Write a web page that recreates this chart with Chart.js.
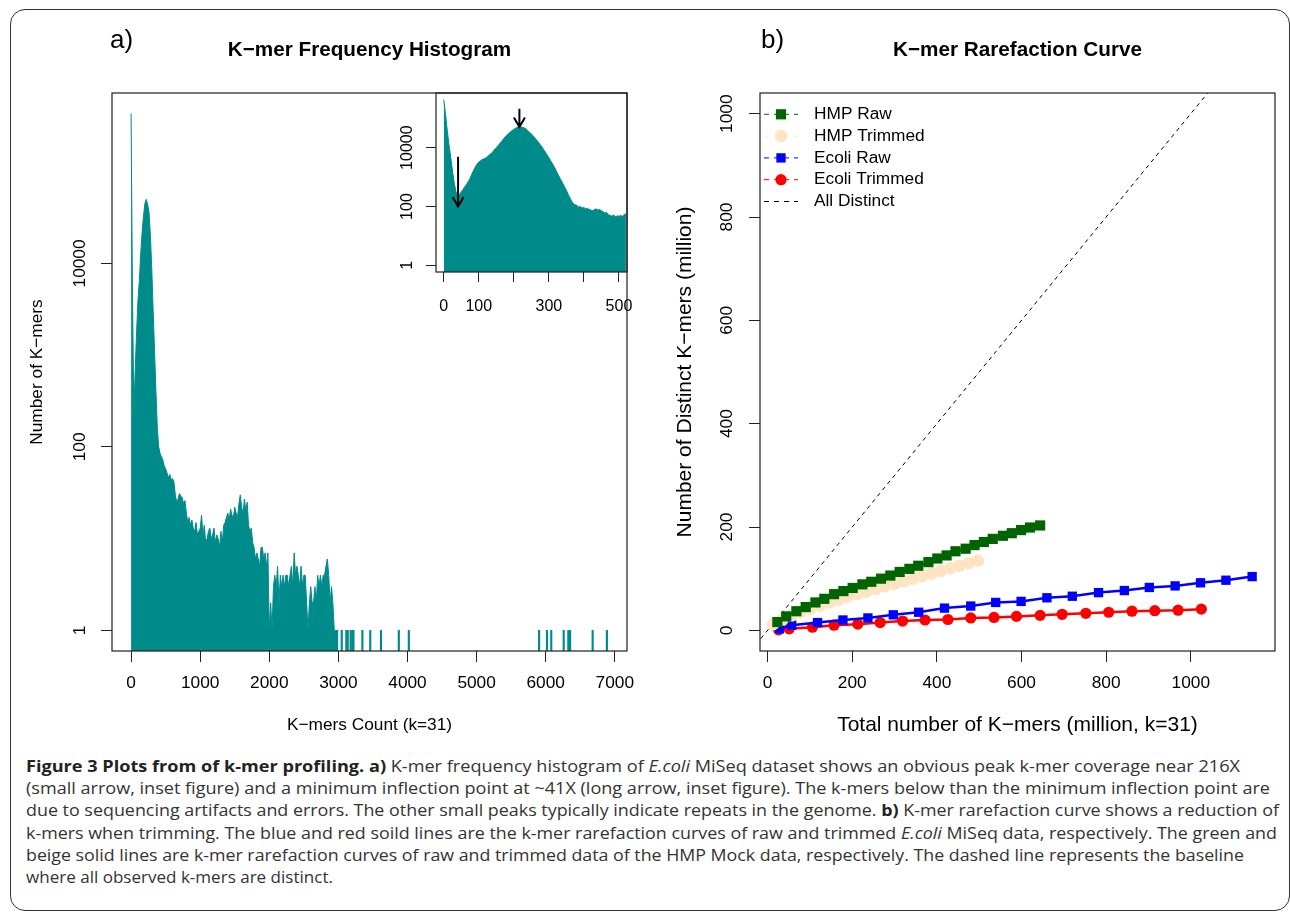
<!DOCTYPE html>
<html lang="en">
<head>
<meta charset="utf-8">
<title>K-mer profiling</title>
<script src="https://cdn.jsdelivr.net/npm/chart.js@4.4.1/dist/chart.umd.min.js"></script>
<style>
  html, body { margin: 0; padding: 0; background: #fff; }
  body { width: 1290px; height: 914px; position: relative; overflow: hidden; font-family: "Liberation Sans", Arial, sans-serif; color: #000; }
  .frame { position: absolute; left: 10px; top: 9px; width: 1280px; height: 902px; border: 1.4px solid #333; border-radius: 15px; box-sizing: border-box; }
  canvas { position: absolute; }
  #histChart { left: 0; top: 0; z-index: 3; }
  #insetChart { left: 340px; top: 60px; z-index: 2; }
  #rareChart { left: 645px; top: 0; z-index: 2; }
  .tag { position: absolute; font-size: 26px; line-height: 26px; z-index: 4; }
  .caption { position: absolute; left: 26px; top: 755px; font-family: "Open Sans", sans-serif; font-size: 16.5px; line-height: 22.2px; color: #333; z-index: 4; }
  .caption div { white-space: nowrap; }
  .caption .ln { display: inline-block; transform-origin: 0 50%; }
  .caption b { color: #222; }
</style>
</head>
<body>
<div class="frame"></div>
<canvas id="insetChart" width="320" height="280"></canvas>
<canvas id="histChart" width="660" height="745"></canvas>
<canvas id="rareChart" width="645" height="745"></canvas>
<div class="tag" style="left:110px;top:26px">a)</div>
<div class="tag" style="left:761px;top:26px">b)</div>

<div class="caption">
  <div><span class="ln"><b>Figure 3 Plots from of k-mer profiling. a)</b> K-mer frequency histogram of <i>E.coli</i> MiSeq dataset shows an obvious peak k-mer coverage near 216X</span></div>
  <div><span class="ln">(small arrow, inset figure) and a minimum inflection point at ~41X (long arrow, inset figure). The k-mers below than the minimum inflection point are</span></div>
  <div><span class="ln">due to sequencing artifacts and errors. The other small peaks typically indicate repeats in the genome. <b>b)</b> K-mer rarefaction curve shows a reduction of</span></div>
  <div><span class="ln">k-mers when trimming. The blue and red soild lines are the k-mer rarefaction curves of raw and trimmed <i>E.coli</i> MiSeq data, respectively. The green and</span></div>
  <div><span class="ln">beige solid lines are k-mer rarefaction curves of raw and trimmed data of the HMP Mock data, respectively. The dashed line represents the baseline</span></div>
  <div><span class="ln">where all observed k-mers are distinct.</span></div>
</div>

<script>
// ---------- a) histogram: k-mer count bins of 20, number of k-mers in each ----------
const histBinWidth = 20
const histCounts = [
  430000, 5000, 230, 700, 1800, 4000, 6500, 13000, 22000, 33000,
  45000, 50000, 44000, 36000, 20000, 8500, 3000, 1100, 400, 160,
  100, 85, 78, 72, 62, 58, 52, 46, 50, 44,
  45, 42, 30, 25, 27, 31, 29, 28, 24, 26,
  19, 15, 17, 14, 16, 13, 12, 15, 11, 12,
  13, 18, 11, 14, 9, 10, 12, 13, 10, 11,
  13, 9, 11, 10, 8, 12, 9, 14, 15, 17,
  19, 16, 21, 18, 17, 22, 19, 17, 24, 30,
  22, 19, 27, 20, 25, 14, 12, 13, 9, 8,
  6, 7, 6, 5, 8, 8, 6, 7, 5, 7,
  1, 2, 1, 3, 4, 3, 5, 2, 4, 3,
  4, 3, 4, 4, 3, 4, 5, 3, 7, 4,
  5, 4, 3, 5, 3, 4, 4, 2, 1, 2,
  3, 2, 2, 3, 2, 4, 3, 4, 3, 4,
  4, 5, 6, 4, 2, 3, 2, 1, 1, 1,
  1
]
// isolated single k-mers far out on the tail
const tailX = [3048, 3115, 3135, 3177, 3202, 3218, 3347, 3461, 3616, 3874, 4019, 5904, 6018, 6080, 6260, 6327, 6353, 6679, 6885]
const tailCounts = [1, 1, 1, 1, 1, 1, 1, 1, 1, 1, 1, 1, 1, 1, 1, 1, 1, 1, 1]
const histTicks = [0, 1000, 2000, 3000, 4000, 5000, 6000, 7000]
const countTicks = [1, 100, 10000]

// ---------- inset: bins of 5 from 0 to 520 ----------
const insetBinWidth = 5
const insetCounts = [
  430000, 141000, 40000, 12600, 4800, 1600, 630, 320, 220, 250,
  320, 380, 470, 560, 710, 890, 1260, 1660, 2190, 2750,
  3240, 3630, 3980, 4170, 4470, 5010, 5620, 6310, 7240, 8510,
  10000, 11700, 13800, 16200, 19500, 22900, 26300, 30200, 33900, 38000,
  41700, 45700, 49000, 50100, 50100, 49000, 46800, 42700, 38000, 33100,
  29500, 25100, 21400, 18200, 15500, 12900, 10700, 8710, 7080, 5620,
  4570, 3630, 2880, 2240, 1740, 1320, 1000, 776, 603, 457,
  355, 263, 200, 151, 126, 115, 110, 95, 100, 89,
  93, 83, 87, 79, 76, 72, 79, 83, 76, 79,
  72, 66, 60, 63, 52, 50, 47, 52, 45, 48,
  47, 50, 46, 54, 56
]
const insetTicks = [0, 100, 200, 300, 400, 500]
const insetTickLabels = ['0', '100', '', '300', '', '500']
// arrows: peak (216X) and minimum inflection (41X)
const arrowX = [216, 41]
const arrowFrom = [210000, 4900]
const arrowTo = [50000, 100]

// ---------- b) rarefaction curves (million) ----------
const seriesNames = ['HMP Raw', 'HMP Trimmed', 'Ecoli Raw', 'Ecoli Trimmed', 'All Distinct']
const hmpRawX = [23, 44, 68, 90, 113, 134, 157, 179, 201, 224, 245, 268, 290, 312, 335, 356, 380, 401, 423, 444, 468, 489, 511, 532, 556, 577, 599, 620, 644]
const hmpRawY = [16, 27, 37, 45, 54, 61, 70, 76, 82, 89, 94, 100, 106, 113, 119, 125, 132, 139, 145, 153, 158, 165, 171, 177, 183, 188, 194, 199, 203]
const hmpTrimX = [13, 35, 57, 79, 101, 123, 145, 167, 189, 211, 233, 255, 277, 299, 321, 343, 365, 387, 409, 431, 453, 475, 497]
const hmpTrimY = [12, 21, 29, 36, 42, 48, 54, 59, 65, 70, 75, 80, 85, 90, 95, 100, 105, 110, 115, 120, 125, 130, 135]
const ecoliRawX = [28, 57, 118, 178, 237, 297, 357, 418, 480, 539, 599, 660, 720, 782, 843, 902, 963, 1023, 1083, 1145]
const ecoliRawY = [3, 10, 15, 20, 24, 30, 35, 43, 47, 54, 56, 63, 66, 73, 77, 83, 86, 92, 97, 104]
const ecoliTrimX = [26, 51, 106, 157, 213, 266, 319, 372, 426, 480, 535, 588, 644, 696, 752, 806, 861, 915, 970, 1025]
const ecoliTrimY = [1, 3, 6, 10, 12, 15, 18, 20, 21, 24, 25, 27, 29, 31, 33, 35, 37, 38, 39, 41]
const allDistinctX = [-40, 1100]
const allDistinctY = [-40, 1100]
const totalTicks = [0, 200, 400, 600, 800, 1000]
const distinctTicks = [0, 200, 400, 600, 800, 1000]


// ---------- shared look ----------
const teal = '#008b8b'
const fontFamily = '"Liberation Sans", Arial, sans-serif'
const axisFont = { family: fontFamily, size: 17.3 }
const bigAxisFont = { family: fontFamily, size: 21 }
const titleFont = { family: fontFamily, size: 20.7, weight: 'bold' }

Chart.defaults.color = '#000'
Chart.defaults.font.family = fontFamily

// scale in R style: ticks outside, no grid, fixed thickness
function rScale(o) {
  return {
    type: o.type,
    min: o.min,
    max: o.max,
    bounds: 'data',
    offset: false,
    afterBuildTicks: s => { s.ticks = o.ticks.map(v => ({ value: v })) },
    afterFit: s => {
      if (o.width) s.width = o.width
      if (o.height) s.height = o.height
    },
    grid: { display: true, offset: false, drawOnChartArea: false, drawTicks: true, tickLength: o.tickLength || 11, color: '#222', lineWidth: 1 },
    border: { display: false },
    ticks: {
      autoSkip: false,
      font: o.font || axisFont,
      color: '#000',
      padding: o.pad,
      minRotation: o.rot,
      maxRotation: o.rot,
      crossAlign: o.rot ? 'center' : 'near',
      callback: o.labels ? (v, i) => o.labels[i] : v => String(v)
    },
    title: o.title
      ? { display: true, text: o.title, font: o.titleFont || axisFont, color: '#000', padding: o.titlePad }
      : { display: false }
  }
}

// box round the plot region, optional white fill underneath
const boxPlugin = {
  id: 'rbox',
  beforeDatasetsDraw(chart, args, opts) {
    if (!opts.fill) return
    const { ctx, chartArea: a } = chart
    ctx.save()
    ctx.fillStyle = opts.fill
    ctx.fillRect(a.left, a.top, a.right - a.left, a.bottom - a.top)
    ctx.restore()
  },
  afterDraw(chart) {
    const { ctx, chartArea: a } = chart
    ctx.save()
    ctx.strokeStyle = '#1e1e1e'
    ctx.lineWidth = 1.2
    ctx.strokeRect(a.left, a.top, a.right - a.left, a.bottom - a.top)
    ctx.restore()
  }
}

// arrows of the inset
const arrowPlugin = {
  id: 'arrows',
  afterDatasetsDraw(chart) {
    const { ctx, scales: { x, y } } = chart
    ctx.save()
    ctx.strokeStyle = '#000'
    ctx.lineWidth = 2
    arrowX.forEach((v, i) => {
      const px = x.getPixelForValue(v)
      const y0 = y.getPixelForValue(arrowFrom[i])
      const y1 = y.getPixelForValue(arrowTo[i])
      const h = 11, ang = Math.PI / 6
      ctx.beginPath()
      ctx.moveTo(px, y0)
      ctx.lineTo(px, y1)
      ctx.moveTo(px - h * Math.sin(ang), y1 - h * Math.cos(ang))
      ctx.lineTo(px, y1)
      ctx.lineTo(px + h * Math.sin(ang), y1 - h * Math.cos(ang))
      ctx.stroke()
    })
    ctx.restore()
  }
}

// legend top left inside the plot, like R's legend()
const legendPlugin = {
  id: 'rlegend',
  afterDatasetsDraw(chart) {
    const { ctx, chartArea: a } = chart
    ctx.save()
    chart.data.datasets.forEach((ds, i) => {
      const y = a.top + 21.3 + i * 21.8
      ctx.strokeStyle = ds.borderColor
      ctx.lineWidth = 1
      ctx.setLineDash([5, 5])
      ctx.beginPath()
      ctx.moveTo(a.left + 4, y)
      ctx.lineTo(a.left + 38, y)
      ctx.stroke()
      ctx.setLineDash([])
      if (ds.pointRadius > 0) {
        ctx.fillStyle = ds.backgroundColor
        Chart.helpers.drawPoint(ctx, { pointStyle: ds.pointStyle, radius: ds.pointRadius, borderWidth: 0, rotation: 0 }, a.left + 21, y)
      }
      ctx.fillStyle = '#000'
      ctx.font = `${axisFont.size}px ${fontFamily}`
      ctx.textBaseline = 'middle'
      ctx.textAlign = 'left'
      ctx.fillText(ds.label, a.left + 54, y)
    })
    ctx.restore()
  }
}


// ---------- a) main histogram ----------
const histPoints = histCounts.map((c, i) => ({ x: i * histBinWidth, y: c }))
const tailPoints = tailX.map((x, i) => ({ x, y: tailCounts[i] }))

new Chart(document.getElementById('histChart'), {
  type: 'bar',
  data: {
    datasets: [
      { type: 'line', data: histPoints, fill: 'start', backgroundColor: teal, borderColor: teal,
        borderWidth: 1, pointRadius: 0, tension: 0 },
      { type: 'bar', data: tailPoints, backgroundColor: teal, borderWidth: 0, barThickness: 1.5 }
    ]
  },
  options: {
    responsive: false,
    animation: false,
    devicePixelRatio: 1,
    layout: { padding: { left: 0, right: 33, top: 0, bottom: 0 } },
    plugins: {
      legend: { display: false },
      tooltip: { enabled: false },
      title: { display: true, fullSize: false, text: 'K−mer Frequency Histogram', font: titleFont, color: '#000', padding: { top: 37.6, bottom: 30.56 } }
    },
    scales: {
      x: rScale({ type: 'linear', min: -276, max: 7176, ticks: histTicks, height: 94, pad: 10.6, rot: 0,
                  title: 'K−mers Count (k=31)', titlePad: { top: 0, bottom: 9.6 } }),
      y: rScale({ type: 'logarithmic', min: 0.596, max: 721000, ticks: countTicks, width: 112, pad: -3, rot: 90,
                  title: 'Number of K−mers', titlePad: { top: 26.6, bottom: 0 } })
    }
  },
  plugins: [boxPlugin]
})


// ---------- a) inset ----------
const insetPoints = insetCounts.map((c, i) => ({ x: i * insetBinWidth, y: c }))

new Chart(document.getElementById('insetChart'), {
  type: 'line',
  data: {
    datasets: [{ data: insetPoints, fill: 'start', backgroundColor: teal, borderColor: teal,
                 borderWidth: 1, pointRadius: 0, tension: 0 }]
  },
  options: {
    responsive: false,
    animation: false,
    devicePixelRatio: 1,
    layout: { padding: { left: 0, right: 33, top: 33, bottom: 0 } },
    plugins: {
      legend: { display: false },
      tooltip: { enabled: false },
      rbox: { fill: '#fff' }
    },
    scales: {
      x: rScale({ type: 'linear', min: -22, max: 523, ticks: insetTicks, labels: insetTickLabels, height: 68, pad: 14.9, rot: 0,
                  tickLength: 10, font: { family: fontFamily, size: 16 } }),
      y: rScale({ type: 'logarithmic', min: 0.596, max: 721000, ticks: countTicks, width: 96, pad: -4.2, rot: 90,
                  tickLength: 10, font: { family: fontFamily, size: 16 } })
    }
  },
  plugins: [boxPlugin, arrowPlugin]
})


// ---------- b) rarefaction curves ----------
const toPoints = (xs, ys) => xs.map((x, i) => ({ x, y: ys[i] }))

new Chart(document.getElementById('rareChart'), {
  type: 'scatter',
  data: {
    datasets: [
      { label: seriesNames[0], data: toPoints(hmpRawX, hmpRawY), borderColor: '#006400', backgroundColor: '#006400',
        pointStyle: 'rect', pointRadius: 7.2, pointBorderWidth: 0, borderWidth: 2.5, showLine: true, order: 0 },
      { label: seriesNames[1], data: toPoints(hmpTrimX, hmpTrimY), borderColor: '#ffe4c4', backgroundColor: '#ffe4c4',
        pointStyle: 'circle', pointRadius: 6.3, pointBorderWidth: 0, borderWidth: 2.5, showLine: true, order: 1 },
      { label: seriesNames[2], data: toPoints(ecoliRawX, ecoliRawY), borderColor: '#0000ff', backgroundColor: '#0000ff',
        pointStyle: 'rect', pointRadius: 6.6, pointBorderWidth: 0, borderWidth: 2.5, showLine: true, order: 2 },
      { label: seriesNames[3], data: toPoints(ecoliTrimX, ecoliTrimY), borderColor: '#ff0000', backgroundColor: '#ff0000',
        pointStyle: 'circle', pointRadius: 5.6, pointBorderWidth: 0, borderWidth: 2.5, showLine: true, order: 3 },
      { label: seriesNames[4], data: toPoints(allDistinctX, allDistinctY), borderColor: '#000', backgroundColor: '#000',
        pointRadius: 0, borderWidth: 1, borderDash: [4, 4], showLine: true, order: 4 }
    ]
  },
  options: {
    responsive: false,
    animation: false,
    devicePixelRatio: 1,
    layout: { padding: { left: 0, right: 15, top: 0, bottom: 0 } },
    plugins: {
      legend: { display: false },
      tooltip: { enabled: false },
      title: { display: true, fullSize: false, text: 'K−mer Rarefaction Curve', font: titleFont, color: '#000', padding: { top: 37.6, bottom: 30.56 } }
    },
    scales: {
      x: rScale({ type: 'linear', min: -18, max: 1199, ticks: totalTicks, height: 94, pad: 10.6, rot: 0,
                  title: 'Total number of K−mers (million, k=31)', titleFont: bigAxisFont, titlePad: { top: 0, bottom: 7.4 } }),
      y: rScale({ type: 'linear', min: -40, max: 1040, ticks: distinctTicks, width: 115, pad: 2.8, rot: 90,
                  title: 'Number of Distinct K−mers (million)', titleFont: bigAxisFont, titlePad: { top: 27.4, bottom: 0 } })
    }
  },
  plugins: [boxPlugin, legendPlugin]
})


// ---------- caption: stretch each line to the width it has in the figure ----------
const captionWidths = [1214, 1244, 1253, 1251, 1218, 307]

function fitCaption() {
  document.querySelectorAll('.caption .ln').forEach((el, i) => {
    el.style.transform = 'none'
    const w = el.getBoundingClientRect().width
    el.style.transform = `scaleX(${captionWidths[i] / w})`
  })
}

fitCaption()
document.fonts.ready.then(fitCaption)
</script>
</body>
</html>
